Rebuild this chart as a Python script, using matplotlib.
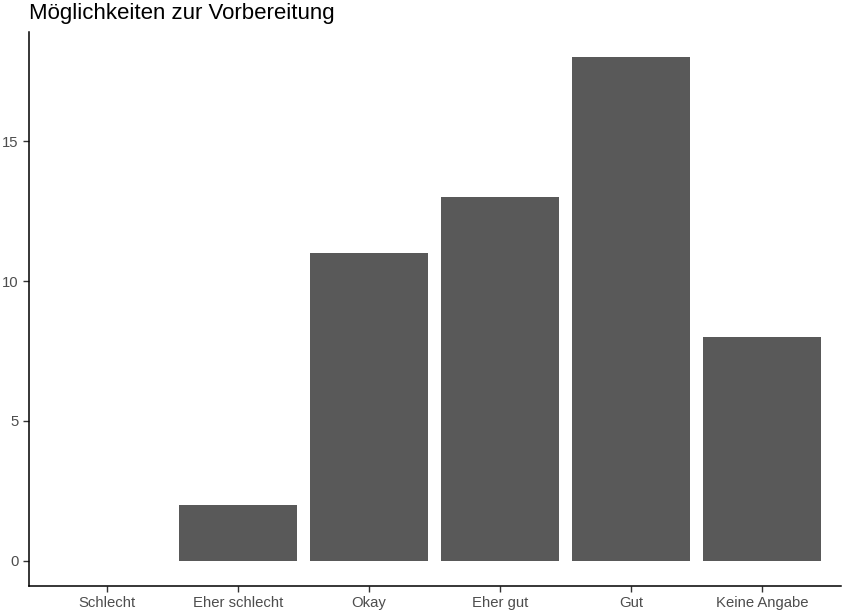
import matplotlib.pyplot as plt
import numpy as np

plt.rcParams['font.family'] = ['Liberation Sans', 'DejaVu Sans']

categories = ['Schlecht', 'Eher schlecht', 'Okay', 'Eher gut', 'Gut', 'Keine Angabe']
counts = [0, 2, 11, 13, 18, 8]
yticks = [0, 5, 10, 15]

fig = plt.figure(figsize=(8.43, 6.16), dpi=100)
ax = fig.add_axes([28.5 / 843, 1 - 586 / 616, (840.5 - 28.5) / 843, (586 - 32) / 616])

x = np.arange(1, len(categories) + 1)
ax.bar(x, counts, width=0.9, color='#595959')

ax.set_xlim(0.4, 6.6)
ax.set_ylim(-0.9, 18.9)
ax.set_xticks(x)
ax.set_xticklabels(categories)
ax.set_yticks(yticks)

for s in ['top', 'right']:
    ax.spines[s].set_visible(False)
for s in ['left', 'bottom']:
    ax.spines[s].set_linewidth(1.1)
    ax.spines[s].set_color('black')

ax.tick_params(axis='both', length=4, width=1.0, color='#333333',
               labelcolor='#4D4D4D', labelsize=10.7, pad=3)

fig.text(28.5 / 843, 1 - 13 / 616, 'Möglichkeiten zur Vorbereitung',
         fontsize=16, ha='left', va='center', color='black')

fig.savefig('out.png', dpi=100)
